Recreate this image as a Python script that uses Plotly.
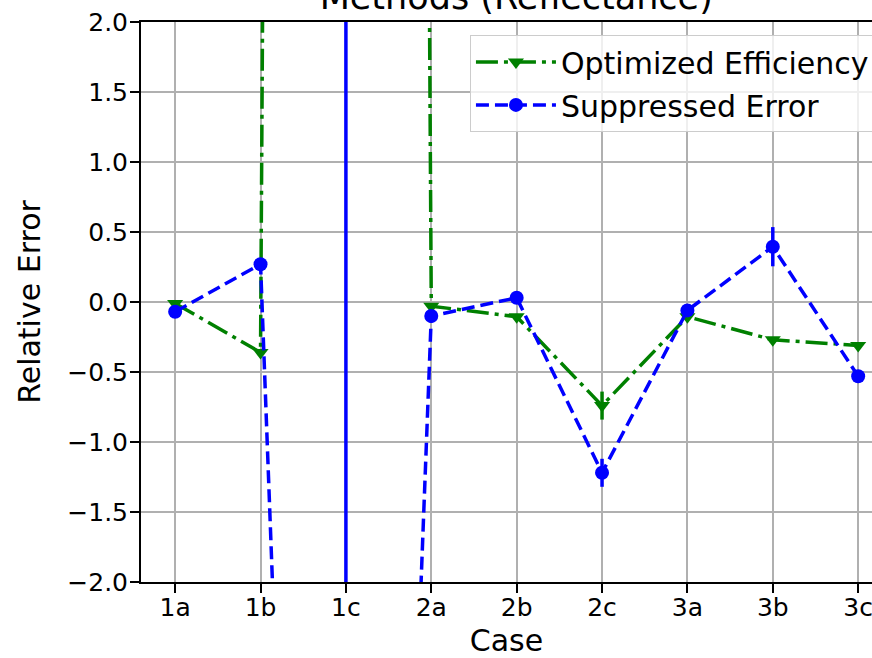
import plotly.graph_objects as go

cases = ["1a", "1b", "1c", "2a", "2b", "2c", "3a", "3b", "3c"]
opt_eff = [-0.01, -0.36, 100.0, -0.03, -0.105, -0.74, -0.105, -0.27, -0.31]
opt_eff_err = [0.02, 0.02, 5.0, 0.02, 0.02, 0.10, 0.02, 0.02, 0.02]
sup_err = [-0.07, 0.27, -16.0, -0.10, 0.03, -1.22, -0.06, 0.395, -0.53]
sup_err_err = [0.02, 0.02, 20.0, 0.02, 0.02, 0.10, 0.02, 0.14, 0.02]
yticks = [-2.0, -1.5, -1.0, -0.5, 0.0, 0.5, 1.0, 1.5, 2.0]

FONT = "DejaVu Sans"
fig = go.Figure()
fig.add_trace(go.Scatter(
    x=cases, y=opt_eff, name="Optimized Efficiency", mode="lines+markers",
    line=dict(color="green", width=3.5, dash="22px,6px,4px,6px"),
    marker=dict(symbol="triangle-down", size=14, color="green"),
    error_y=dict(type="data", array=opt_eff_err, color="green", thickness=3.5, width=0),
    legendgroup="a",
))
fig.add_trace(go.Scatter(
    x=cases, y=sup_err, name="Suppressed Error", mode="lines+markers",
    line=dict(color="blue", width=3.5, dash="13px,6px"),
    marker=dict(symbol="circle", size=14, color="blue"),
    error_y=dict(type="data", array=sup_err_err, color="blue", thickness=3.5, width=0),
    legendgroup="b",
))

fig.update_layout(
    width=872, height=658,
    margin=dict(l=141, r=0, t=22, b=76, autoexpand=False),
    plot_bgcolor="white", paper_bgcolor="white",
    font=dict(family=FONT, size=25, color="black"),
    title=dict(text="Methods (Reflectance)", font=dict(size=35, family=FONT, color="black"),
               x=0.592, xanchor="center", yref="container", y=1 - 9 / 658, yanchor="bottom"),
    showlegend=True,
    legend=dict(x=0.450, y=0.977, xanchor="left", yanchor="top",
                bordercolor="#cccccc", borderwidth=1, bgcolor="rgba(255,255,255,0.8)",
                font=dict(size=30, family=FONT, color="black"), tracegroupgap=1,
                traceorder="grouped", itemwidth=80),
)
fig.update_xaxes(
    type="category", range=[-0.4, 8.162], automargin=False,
    showgrid=True, gridcolor="#b0b0b0", gridwidth=2,
    showline=True, linecolor="black", linewidth=2, mirror=True,
    ticks="outside", ticklen=9, tickwidth=2, tickcolor="black",
    tickfont=dict(size=25), ticklabelstandoff=-7,
    title=dict(text="Case", font=dict(size=30), standoff=12),
    zeroline=False,
)
fig.update_yaxes(
    range=[-2, 2], tickvals=yticks, ticktext=[f"{v:.1f}".replace("-", "\u2212") for v in yticks],
    automargin=False,
    showgrid=True, gridcolor="#b0b0b0", gridwidth=2,
    showline=True, linecolor="black", linewidth=2, mirror=False,
    ticks="outside", ticklen=9, tickwidth=2, tickcolor="black",
    tickfont=dict(size=25), ticklabelstandoff=-3,
    title=dict(text="Relative Error", font=dict(size=30), standoff=18),
    zeroline=False,
)
fig.write_html("out.html", config={"displayModeBar": False},
               post_script="document.body.style.margin='0';document.body.style.overflow='hidden';")
